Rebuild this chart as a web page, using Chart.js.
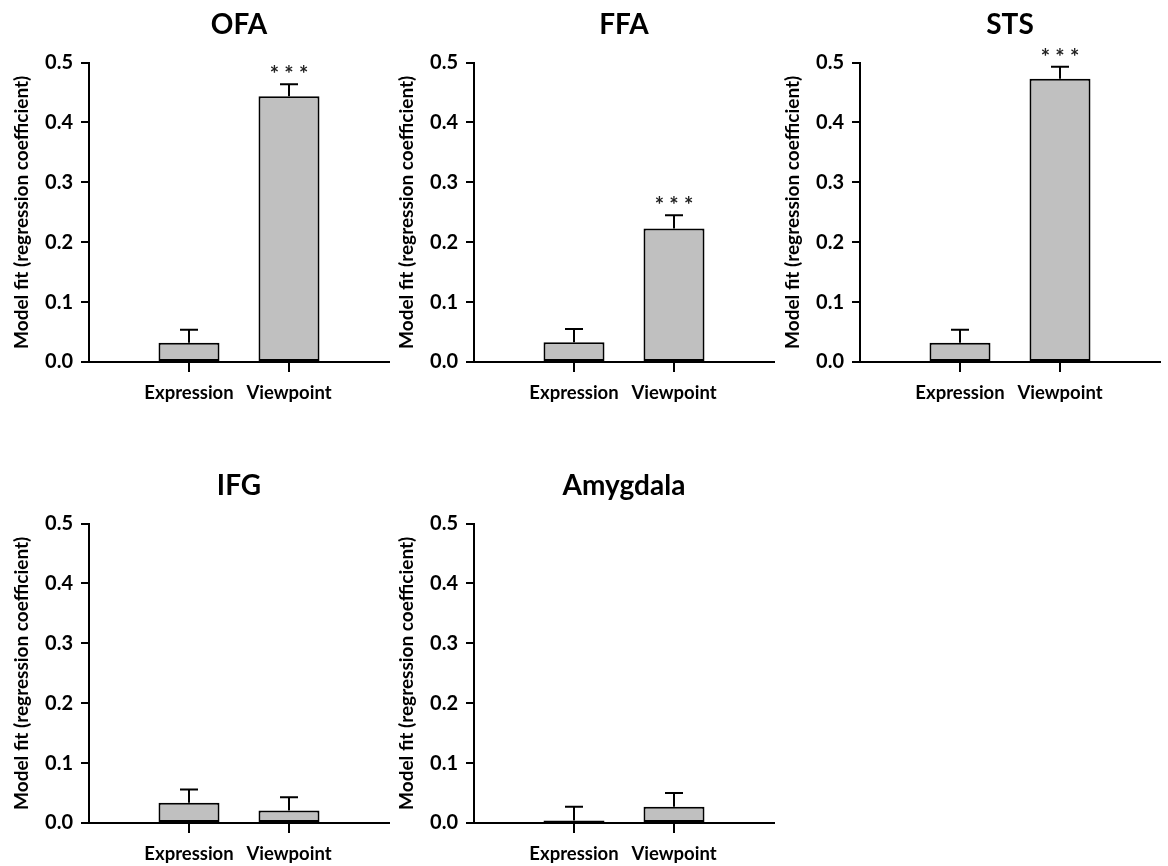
<!DOCTYPE html>
<html>
<head>
<meta charset="utf-8">
<script src="https://cdn.jsdelivr.net/npm/chart.js@4.4.0/dist/chart.umd.min.js"></script>
<style>
  body { margin: 0; background: #fff; }
  canvas { position: absolute; }
</style>
</head>
<body>
<canvas id="c0" width="400" height="405" style="left:0px;top:0px"></canvas>
<canvas id="c1" width="400" height="405" style="left:385px;top:0px"></canvas>
<canvas id="c2" width="397" height="405" style="left:771px;top:0px"></canvas>
<canvas id="c3" width="400" height="405" style="left:0px;top:461px"></canvas>
<canvas id="c4" width="400" height="405" style="left:385px;top:461px"></canvas>
<script>
// values
const regions = ['OFA', 'FFA', 'STS', 'IFG', 'Amygdala'];
const categories = ['Expression', 'Viewpoint'];
const expressionMeans = [0.032, 0.033, 0.032, 0.034, 0.004];
const expressionErrors = [0.022, 0.022, 0.022, 0.022, 0.023];
const viewpointMeans = [0.444, 0.223, 0.473, 0.021, 0.027];
const viewpointErrors = [0.020, 0.022, 0.020, 0.022, 0.023];
const expressionStars = ['', '', '', '', ''];
const viewpointStars = ['* * *', '* * *', '* * *', '', ''];
const yMax = 0.5;
const yStep = 0.1;

const FONT = 'Lato';

// error bars (upper half only) + significance stars
const errorBars = {
  id: 'errorBars',
  afterDatasetsDraw(chart, args, opts) {
    const c = chart.ctx;
    const meta = chart.getDatasetMeta(0);
    const yScale = chart.scales.y;
    c.save();
    c.strokeStyle = '#000';
    c.lineWidth = 2;
    opts.errors.forEach((err, i) => {
      const bar = meta.data[i];
      const mean = opts.means[i];
      const yTop = yScale.getPixelForValue(mean + err);
      c.beginPath();
      c.moveTo(bar.x, bar.y);
      c.lineTo(bar.x, yTop);
      c.moveTo(bar.x - 9, yTop);
      c.lineTo(bar.x + 9, yTop);
      c.stroke();
      if (opts.stars[i]) {
        c.fillStyle = '#222';
        c.font = 'bold 22px ' + FONT;
        c.textAlign = 'center';
        c.textBaseline = 'middle';
        c.fillText(opts.stars[i], bar.x, yTop - 9);
      }
    });
    c.restore();
  }
};

function makeChart(id, k) {
  const canvas = document.getElementById(id);
  const means = [expressionMeans[k], viewpointMeans[k]];
  new Chart(canvas, {
    type: 'bar',
    data: {
      datasets: [{
        data: means.map((m, i) => ({ x: i, y: m })),
        backgroundColor: '#c0c0c0',
        borderColor: '#000',
        borderWidth: 2,
        borderSkipped: false,
        categoryPercentage: 1,
        barPercentage: 0.61
      }]
    },
    options: {
      responsive: false,
      animation: false,
      layout: { padding: { left: 0, right: canvas.width - 389, top: 0, bottom: 0 } },
      plugins: {
        legend: { display: false },
        tooltip: { enabled: false },
        title: {
          display: true,
          text: regions[k],
          fullSize: false,
          color: '#000',
          font: { family: FONT, size: 28, weight: 'bold' },
          padding: { top: 8, bottom: 21 }
        },
        errorBars: {
          means: means,
          errors: [expressionErrors[k], viewpointErrors[k]],
          stars: [expressionStars[k], viewpointStars[k]]
        }
      },
      scales: {
        x: {
          type: 'linear',
          min: -1,
          max: categories.length,
          offset: false,
          grid: {
            offset: false,
            drawOnChartArea: false,
            tickLength: 10,
            lineWidth: 2,
            color: '#000'
          },
          border: { display: true, color: '#000', width: 2 },
          afterBuildTicks: (s) => { s.ticks = categories.map((c, i) => ({ value: i })); },
          ticks: {
            callback: (v) => categories[v],
            color: '#000',
            font: { family: FONT, size: 18.5, weight: 'bold' },
            padding: 10,
            maxRotation: 0,
            autoSkip: false
          },
          afterFit: (s) => { s.height = 43; }
        },
        y: {
          min: 0,
          max: yMax,
          grid: { drawOnChartArea: false, tickLength: 8, lineWidth: 2, tickColor: '#000' },
          border: { display: true, color: '#000', width: 2 },
          ticks: {
            stepSize: yStep,
            callback: (v) => v.toFixed(1),
            color: '#000',
            font: { family: FONT, size: 20, weight: 'bold' },
            padding: 8
          },
          title: {
            display: true,
            text: 'Model fit (regression coefficient)',
            color: '#000',
            font: { family: FONT, size: 19, weight: 'bold' },
            padding: { top: 10, bottom: 0 }
          },
          afterFit: (s) => { s.width = 89; }
        }
      }
    },
    plugins: [errorBars]
  });
}

regions.forEach((r, k) => makeChart('c' + k, k));
</script>
</body>
</html>
